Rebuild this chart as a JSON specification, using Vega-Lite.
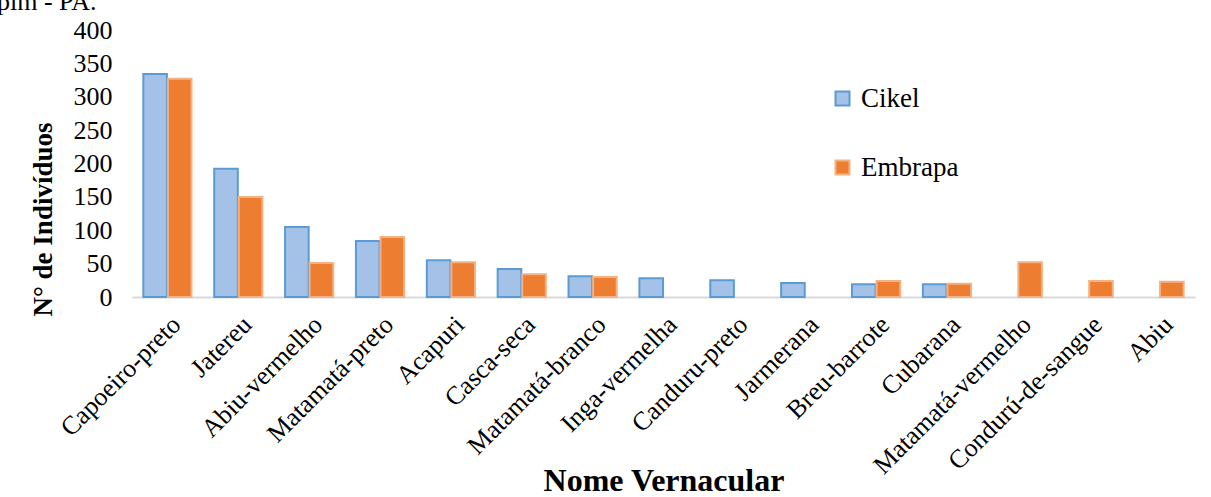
{
  "$schema": "https://vega.github.io/schema/vega-lite/v6.json",
  "width": 1063,
  "height": 267,
  "autosize": {"type": "none"},
  "padding": {"left": 132, "top": 30, "right": 16, "bottom": 200},
  "background": "white",
  "title": {"text": "pim - PA.", "anchor": "start", "frame": "group", "dx": -135, "dy": 29, "baseline": "alphabetic", "offset": 10, "font": "Liberation Serif", "fontSize": 26, "fontWeight": "normal", "color": "#000000"},
  "config": {"view": {"stroke": null}, "font": "Liberation Serif", "legend": {"labelFont": "Liberation Serif"}},
  "data": {
    "values": [
      {"nome": "Capoeiro-preto", "serie": "Cikel", "n": 334},
      {"nome": "Capoeiro-preto", "serie": "Embrapa", "n": 327},
      {"nome": "Jatereu", "serie": "Cikel", "n": 192},
      {"nome": "Jatereu", "serie": "Embrapa", "n": 150},
      {"nome": "Abiu-vermelho", "serie": "Cikel", "n": 105},
      {"nome": "Abiu-vermelho", "serie": "Embrapa", "n": 51},
      {"nome": "Matamatá-preto", "serie": "Cikel", "n": 84},
      {"nome": "Matamatá-preto", "serie": "Embrapa", "n": 90},
      {"nome": "Acapuri", "serie": "Cikel", "n": 55},
      {"nome": "Acapuri", "serie": "Embrapa", "n": 52},
      {"nome": "Casca-seca", "serie": "Cikel", "n": 42},
      {"nome": "Casca-seca", "serie": "Embrapa", "n": 34},
      {"nome": "Matamatá-branco", "serie": "Cikel", "n": 31},
      {"nome": "Matamatá-branco", "serie": "Embrapa", "n": 30},
      {"nome": "Inga-vermelha", "serie": "Cikel", "n": 28},
      {"nome": "Canduru-preto", "serie": "Cikel", "n": 25},
      {"nome": "Jarmerana", "serie": "Cikel", "n": 21},
      {"nome": "Breu-barrote", "serie": "Cikel", "n": 19},
      {"nome": "Breu-barrote", "serie": "Embrapa", "n": 24},
      {"nome": "Cubarana", "serie": "Cikel", "n": 19},
      {"nome": "Cubarana", "serie": "Embrapa", "n": 20},
      {"nome": "Matamatá-vermelho", "serie": "Embrapa", "n": 52},
      {"nome": "Condurú-de-sangue", "serie": "Embrapa", "n": 24},
      {"nome": "Abiu", "serie": "Embrapa", "n": 23}
    ]
  },
  "mark": {"type": "bar", "strokeWidth": 2},
  "encoding": {
    "x": {
      "field": "nome", "type": "nominal", "sort": null,
      "scale": {"paddingInner": 0.32, "paddingOuter": 0.16},
      "axis": {
        "title": "Nome Vernacular", "titleFont": "Liberation Serif", "titleFontSize": 32, "titleFontWeight": "bold", "titleColor": "#000000",
        "titleY": 193, "titleBaseline": "alphabetic",
        "labelAngle": -45, "labelFont": "Liberation Serif", "labelFontSize": 26, "labelColor": "#000000", "labelPadding": 14, "labelDx": -22,
        "labelLimit": 0,
        "ticks": false, "domainColor": "#d9d9d9", "domainWidth": 2, "labelOverlap": false
      }
    },
    "xOffset": {"field": "serie", "type": "nominal", "scale": {"domain": ["Cikel", "Embrapa"], "paddingInner": 0.04}},
    "y": {
      "field": "n", "type": "quantitative",
      "scale": {"domain": [0, 400]},
      "axis": {
        "title": "N° de Indivíduos", "titleFont": "Liberation Serif", "titleFontSize": 27, "titleFontWeight": "bold", "titleColor": "#000000",
        "titleX": -89, "titleY": 189, "titleAngle": -90, "titleAlign": "center", "titleBaseline": "middle",
        "values": [0, 50, 100, 150, 200, 250, 300, 350, 400],
        "labelFont": "Liberation Serif", "labelFontSize": 26, "labelColor": "#000000", "labelPadding": 20,
        "ticks": false, "domain": false, "grid": false
      }
    },
    "color": {
      "field": "serie", "type": "nominal",
      "scale": {"domain": ["Cikel", "Embrapa"], "range": ["#a4c2e8", "#ed7d31"]},
      "legend": {
        "title": null, "orient": "none", "legendX": 697, "legendY": 55,
        "symbolType": "square", "symbolSize": 196, "symbolStrokeWidth": 2,
        "labelFont": "Liberation Serif", "labelFontSize": 27, "labelColor": "#000000",
        "rowPadding": 41, "labelOffset": 5
      }
    },
    "stroke": {
      "field": "serie", "type": "nominal",
      "scale": {"domain": ["Cikel", "Embrapa"], "range": ["#5b9bd5", "#f4b183"]},
      "legend": null
    }
  }
}
